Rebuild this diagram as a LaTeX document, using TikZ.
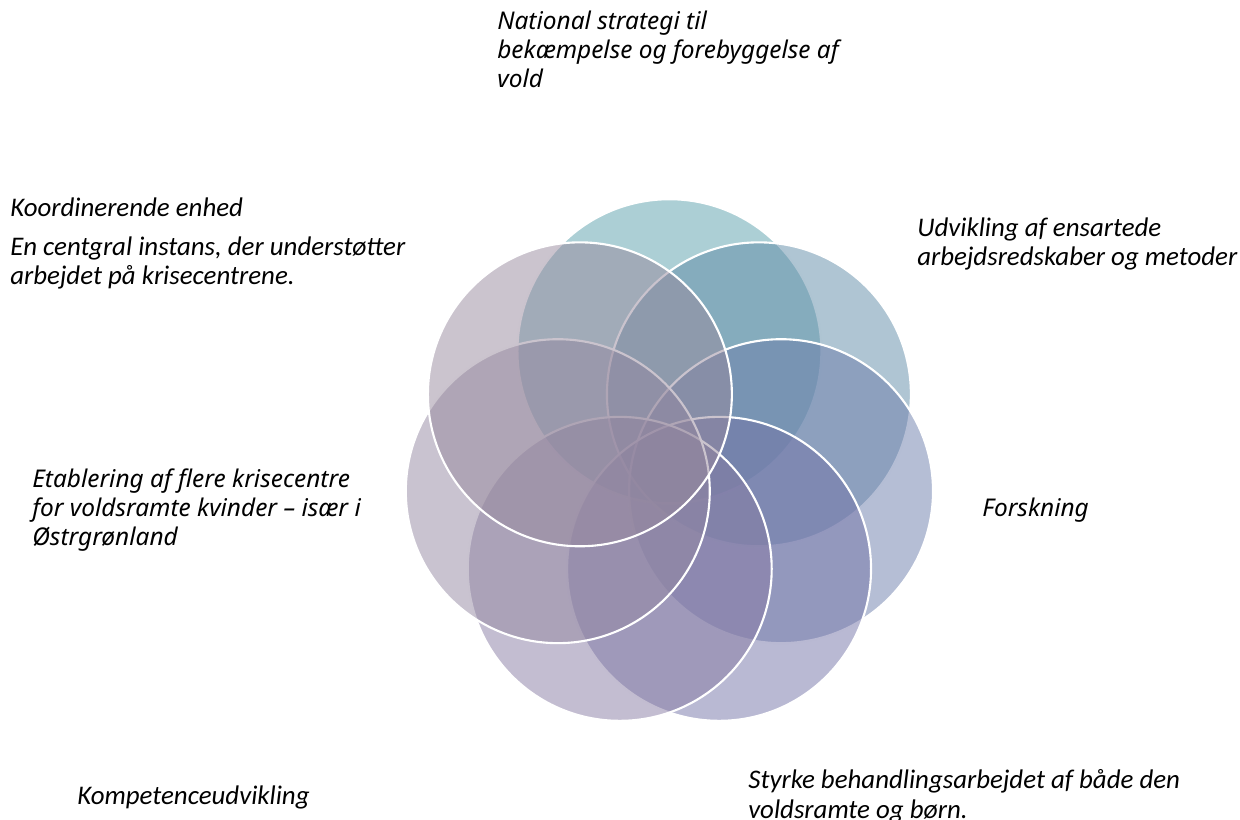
\documentclass[tikz,border=0pt]{standalone}
\usepackage{fontspec}
\setmainfont{Carlito}
\newfontfamily\segoe{Noto Sans}
\usepackage{tikz}

\definecolor{ringA}{RGB}{89,159,171}
\definecolor{ringB}{RGB}{95,139,167}
\definecolor{ringC}{RGB}{107,125,171}
\definecolor{ringD}{RGB}{115,115,167}
\definecolor{ringE}{RGB}{135,123,163}
\definecolor{ringF}{RGB}{147,135,161}
\definecolor{ringG}{RGB}{151,137,157}

\tikzset{
  ring/.style={draw=white, line width=1.2pt, fill opacity=0.5},
  cal/.style={anchor=north west, inner sep=0pt, align=left,
    font=\itshape\fontsize{15.3}{17}\selectfont},
  seg/.style={anchor=north west, inner sep=0pt, align=left,
    font=\segoe\itshape\fontsize{13.9}{16.5}\selectfont}
}

\begin{document}
\begin{tikzpicture}[x=0.02cm, y=-0.02cm]
      \useasboundingbox (0,0) rectangle (1240,820);

      % Ring of seven circles, drawn clockwise from the top
      \coordinate (mid) at (669.4,465.7);
      \foreach \col [count=\i from 0] in {ringA,ringB,ringC,ringD,ringE,ringF,ringG}
        \draw[ring, fill=\col] (mid) ++({\i*360/7-90}:114.5) circle (3.04cm);

      % Labels round the ring
      \node[seg] (strategi) at (497,11) {National strategi til\\bekæmpelse og forebyggelse af\\vold};
      \node[cal] (enhed) at (10,197) {Koordinerende enhed};
      \node[cal] (instans) at (10,236)
        {En centgral instans, der understøtter\\arbejdet på krisecentrene.};
      \node[cal] (metoder) at (917,217) {Udvikling af ensartede\\arbejdsredskaber og metoder};
      \node[seg] (forskning) at (982,498) {Forskning};
      \node[seg] (krisecentre) at (32,468) {Etablering af flere krisecentre\\for voldsramte kvinder – især i\\Østrgrønland};
      \node[cal] (kompetence) at (77,785) {Kompetenceudvikling};
      \node[cal] (behandling) at (748,769) {Styrke behandlingsarbejdet af både den\\voldsramte og børn.};

  \end{tikzpicture}
\end{document}
